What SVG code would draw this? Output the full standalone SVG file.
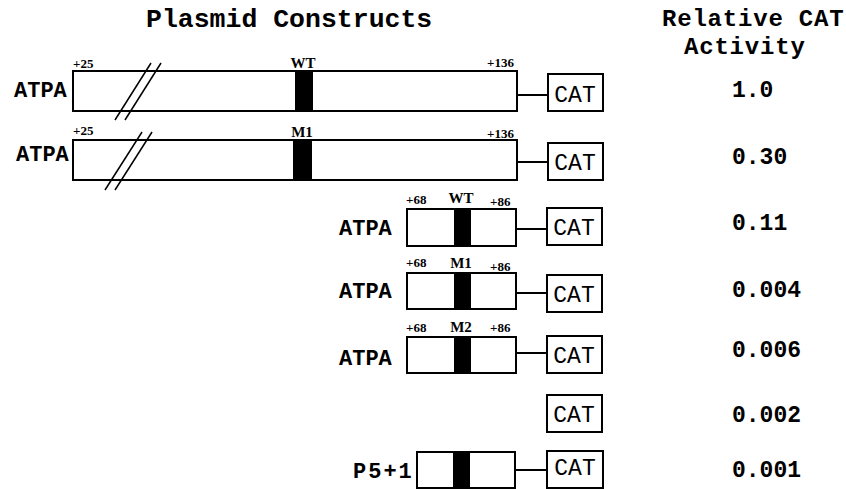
<svg xmlns="http://www.w3.org/2000/svg" width="846" height="489" viewBox="0 0 846 489">
<style>
.bar{fill:#fff;stroke:#000;stroke-width:2}
.band{fill:#000}
.cat{fill:#fff;stroke:#000;stroke-width:2}
.ln{stroke:#000;stroke-width:2;fill:none}
.brk{stroke:#000;stroke-width:1.5;fill:none}
.title{font-family:"Liberation Mono","Courier New",monospace;font-weight:bold;font-size:26.5px;fill:#000}
.head{font-family:"Liberation Mono","Courier New",monospace;font-weight:bold;font-size:24px;letter-spacing:0.8px;fill:#000}
.val{font-family:"Liberation Mono","Courier New",monospace;font-weight:bold;font-size:23px;fill:#000}
.name{font-family:"Liberation Mono","Courier New",monospace;font-weight:bold;font-size:22px;fill:#000}
.catt{font-family:"Liberation Mono","Courier New",monospace;font-size:23px;fill:#000;text-anchor:middle}
.pos{font-family:"Liberation Serif","Times New Roman",serif;font-weight:bold;font-size:13px;fill:#000}
.mut{font-family:"Liberation Serif","Times New Roman",serif;font-weight:bold;font-size:15px;fill:#000;text-anchor:middle}
</style>
<rect width="846" height="489" fill="#fff"/>
<g id="titles">
<text class="title" x="146" y="27">Plasmid Constructs</text>
<text class="head" x="662" y="26">Relative CAT</text>
<text class="head" x="684" y="54">Activity</text>
</g>
<g id="connectors">
<line class="ln" x1="517" y1="95" x2="548" y2="95"/>
<line class="ln" x1="517" y1="162" x2="548" y2="162"/>
<line class="ln" x1="516" y1="229" x2="547" y2="229"/>
<line class="ln" x1="516" y1="293" x2="547" y2="293"/>
<line class="ln" x1="516" y1="353" x2="547" y2="353"/>
<line class="ln" x1="515" y1="470" x2="547" y2="470"/>
</g>
<g id="row1">
<text class="name" x="14" y="97">ATPA</text>
<rect class="bar" x="73" y="71" width="444" height="40"/>
<rect class="band" x="295" y="71" width="18" height="40"/>
<line class="brk" x1="115" y1="120" x2="151" y2="63"/>
<line class="brk" x1="125" y1="120" x2="161" y2="63"/>
<text class="pos" x="73" y="68">+25</text>
<text class="mut" x="303" y="68">WT</text>
<text class="pos" x="514" y="67" text-anchor="end">+136</text>
<rect class="cat" x="548" y="74" width="55" height="37"/>
<text class="catt" x="575" y="102">CAT</text>
<text class="val" x="732" y="97">1.0</text>
</g>
<g id="row2">
<text class="name" x="16" y="161">ATPA</text>
<rect class="bar" x="73" y="140" width="444" height="40"/>
<rect class="band" x="293" y="140" width="19" height="40"/>
<line class="brk" x1="105" y1="190" x2="142" y2="132"/>
<line class="brk" x1="115" y1="190" x2="152" y2="132"/>
<text class="pos" x="73" y="135">+25</text>
<text class="mut" x="302" y="137">M1</text>
<text class="pos" x="514" y="138" text-anchor="end">+136</text>
<rect class="cat" x="548" y="143" width="55" height="37"/>
<text class="catt" x="575" y="170">CAT</text>
<text class="val" x="732" y="164">0.30</text>
</g>
<g id="row3">
<text class="name" x="339" y="235">ATPA</text>
<rect class="bar" x="407" y="209" width="109" height="37"/>
<rect class="band" x="454" y="209" width="17" height="37"/>
<text class="pos" x="406" y="204">+68</text>
<text class="mut" x="461" y="203">WT</text>
<text class="pos" x="490" y="206">+86</text>
<rect class="cat" x="547" y="208" width="55" height="37"/>
<text class="catt" x="574" y="235">CAT</text>
<text class="val" x="732" y="230">0.11</text>
</g>
<g id="row4">
<text class="name" x="339" y="298">ATPA</text>
<rect class="bar" x="407" y="273" width="109" height="36"/>
<rect class="band" x="454" y="273" width="17" height="36"/>
<text class="pos" x="406" y="267">+68</text>
<text class="mut" x="461" y="268">M1</text>
<text class="pos" x="490" y="271">+86</text>
<rect class="cat" x="547" y="275" width="55" height="37"/>
<text class="catt" x="574" y="302">CAT</text>
<text class="val" x="732" y="297">0.004</text>
</g>
<g id="row5">
<text class="name" x="339" y="365">ATPA</text>
<rect class="bar" x="407" y="337" width="109" height="36"/>
<rect class="band" x="454" y="337" width="17" height="36"/>
<text class="pos" x="406" y="332">+68</text>
<text class="mut" x="461" y="332">M2</text>
<text class="pos" x="490" y="332">+86</text>
<rect class="cat" x="547" y="336" width="55" height="37"/>
<text class="catt" x="574" y="363">CAT</text>
<text class="val" x="732" y="357">0.006</text>
</g>
<g id="row6">
<rect class="cat" x="547" y="395" width="55" height="37"/>
<text class="catt" x="574" y="422">CAT</text>
<text class="val" x="732" y="422">0.002</text>
</g>
<g id="row7">
<text class="name" x="353" y="478" letter-spacing="2">P5+1</text>
<rect class="bar" x="417" y="452" width="98" height="36"/>
<rect class="band" x="453" y="452" width="17" height="36"/>
<rect class="cat" x="547" y="451" width="56" height="37"/>
<text class="catt" x="575" y="475">CAT</text>
<text class="val" x="732" y="477">0.001</text>
</g>
</svg>
